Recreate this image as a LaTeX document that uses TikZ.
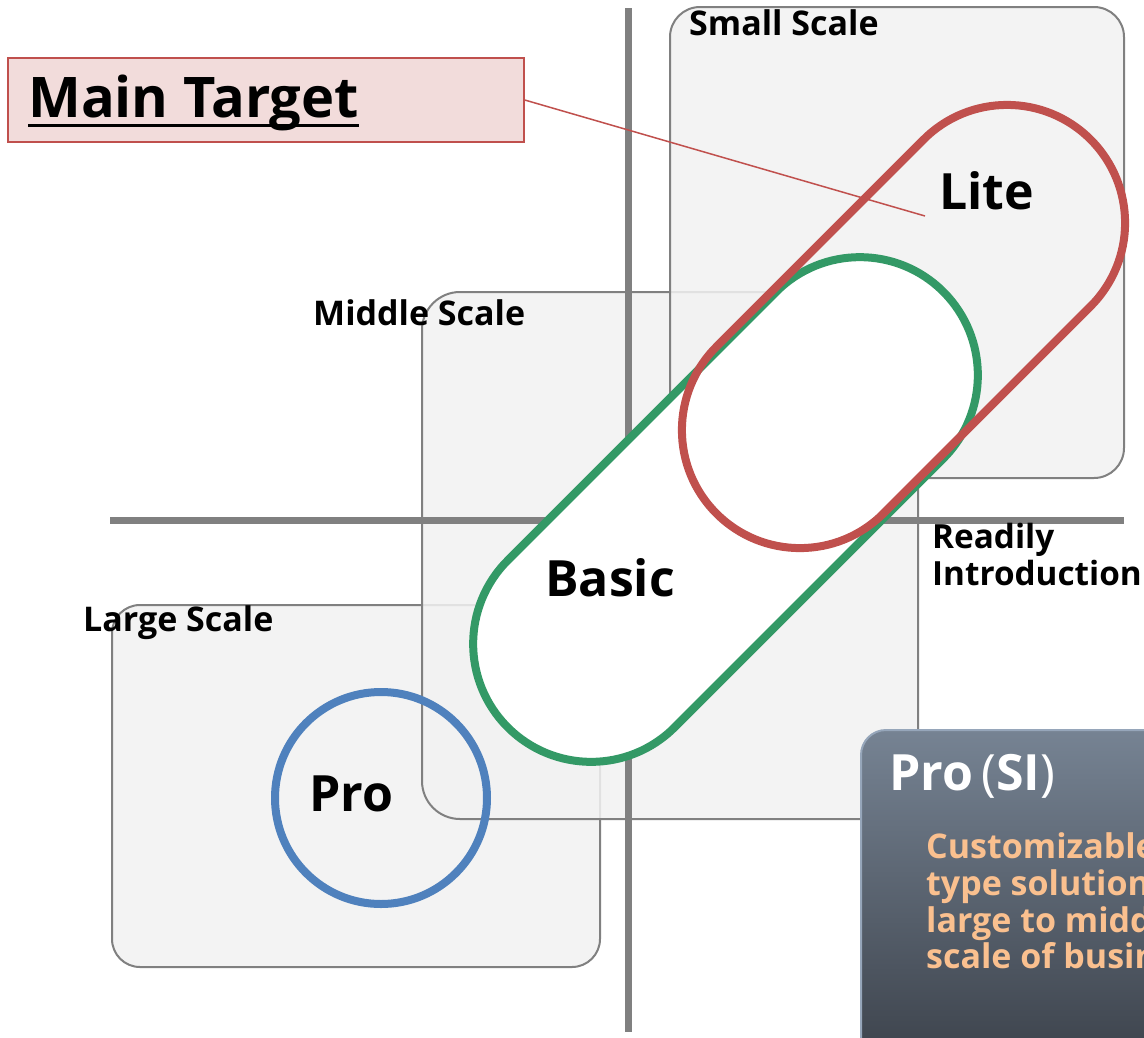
\documentclass[tikz,border=0pt]{standalone}
\usepackage{fontspec}
\setmainfont{Open Sans}[BoldFont={Open Sans Bold}]
\usetikzlibrary{shapes.misc}
\definecolor{axisgray}{RGB}{128,128,128}
\definecolor{boxgray}{RGB}{242,242,242}
\definecolor{boxline}{RGB}{128,128,128}
\definecolor{lgreen}{RGB}{51,153,102}
\definecolor{lred}{RGB}{192,80,77}
\definecolor{lblue}{RGB}{79,129,189}
\definecolor{mtpink}{RGB}{242,220,219}
\definecolor{sitop}{RGB}{118,131,147}
\definecolor{sibot}{RGB}{52,57,65}
\definecolor{siline}{RGB}{150,166,186}
\definecolor{siorange}{RGB}{250,192,143}
\newcommand\mtul[1]{\setbox0\hbox{#1}\rlap{\rule[-10pt]{\wd0}{3.5pt}}\box0}
\begin{document}
\begin{tikzpicture}[x=1pt,y=-1pt,
  scalebox/.style={draw=boxline, line width=2, fill=boxgray, fill opacity=0.85, inner sep=0, outer sep=0},
  axisline/.style={draw=axisgray, line width=7},
  capsule/.style={rounded rectangle, line width=8, inner sep=0, outer sep=0, minimum height=236, rotate=45},
  lbl/.style={anchor=base west, inner sep=0, font=\bfseries\fontsize{34}{40}\selectfont},
  sidelbl/.style={anchor=base west, inner sep=0, font=\bfseries\fontsize{33.3}{40}\selectfont},
  biglbl/.style={anchor=base west, inner sep=0, font=\bfseries\fontsize{50}{60}\selectfont},
  bodylbl/.style={anchor=base west, inner sep=0, text=siorange, font=\bfseries\fontsize{34}{40}\selectfont}]
\clip (0,0) rectangle (1144,1037);
\fill[white] (0,0) rectangle (1144,1037);
% scale boxes
\node[scalebox, rounded corners=28, minimum width=488, minimum height=362] (large) at (356,786) {};
\node[scalebox, rounded corners=38, minimum width=496, minimum height=527] (middle) at (670,555.5) {};
\node[scalebox, rounded corners=30, minimum width=454, minimum height=471] (small) at (897,242.5) {};
% axes
\coordinate (vtop) at (628,8);
\coordinate (vbot) at (628,1032);
\coordinate (hleft) at (110,520);
\coordinate (hright) at (1124,520);
\draw[axisline] (vtop) -- (vbot);
\draw[axisline] (hleft) -- (hright);
% product shapes
\node[capsule, draw=lgreen, fill=white, minimum width=616] (basicshape) at (725.5,509.5) {};
\node[capsule, draw=lred, minimum width=529] (liteshape) at (903.5,326.5) {};
\node[circle, draw=lblue, line width=8, inner sep=0, minimum size=212] (proshape) at (381,798) {};
% labels
\node[lbl] (smalllbl) at (689,35) {Small Scale};
\node[lbl] (middlelbl) at (313,325) {Middle Scale};
\node[lbl] (largelbl) at (83,631) {Large Scale};
\node[sidelbl] (readily) at (932,548) {Readily};
\node[sidelbl] (intro) at (932,585) {Introduction};
\node[biglbl] (litelbl) at (939,209) {Lite};
\node[biglbl] (basiclbl) at (545,596) {Basic};
\node[biglbl] (prolbl) at (309,811) {Pro};
% main target
\node[draw=lred, fill=mtpink, line width=1.5, inner sep=0, minimum width=516, minimum height=84] (mt) at (266,100) {};
\node[anchor=base west, inner sep=0, font=\bfseries\fontsize{56}{60}\selectfont] (mttext) at (28,117) {\mtul{Main Target}};
\coordinate (mtend) at (925,216);
\draw[lred, line width=1.5] (mt.east) -- (mtend);
% Pro(SI) box
\node[draw=siline, line width=2, top color=sitop, bottom color=sibot, rounded corners=25, inner sep=0, anchor=north west, minimum width=360, minimum height=380] (sibox) at (860,729) {};
\node[biglbl, text=white] (sititle) at (889,790) {Pro{\mdseries\,(}SI{\mdseries)}};
\node[bodylbl] (body1) at (926,858) {Customizable};
\node[bodylbl] (body2) at (926,895) {type solution};
\node[bodylbl] (body3) at (926,932) {large to middle};
\node[bodylbl] (body4) at (926,968) {scale of business};
\end{tikzpicture}
\end{document}
